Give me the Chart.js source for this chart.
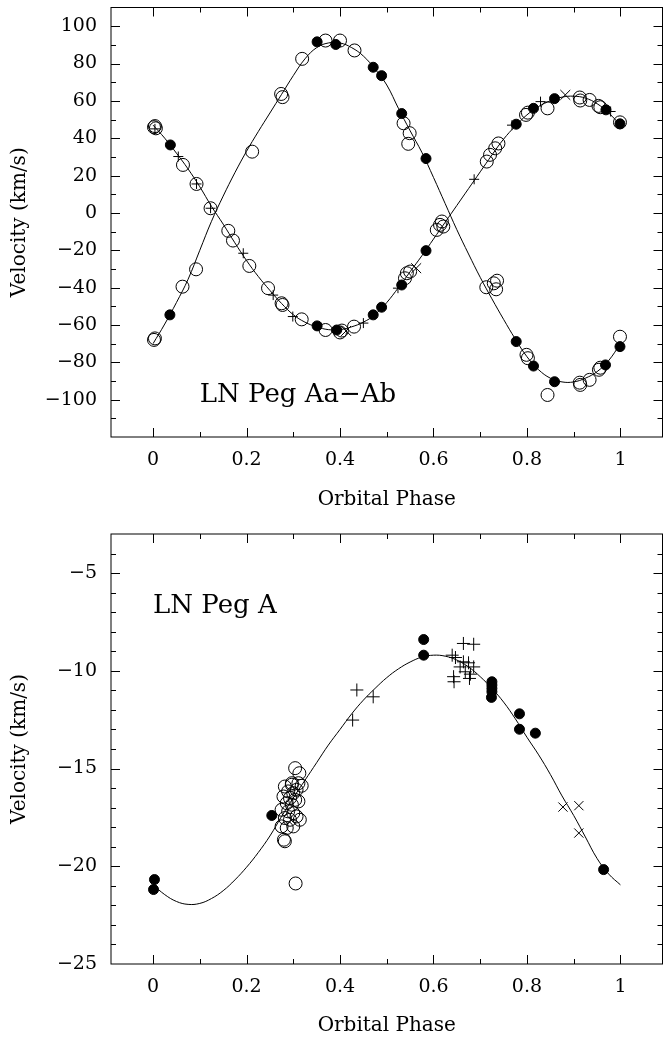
<!DOCTYPE html>
<html>
<head>
<meta charset="utf-8">
<script src="https://cdn.jsdelivr.net/npm/chart.js@4.4.0/dist/chart.umd.min.js"></script>
<style>
  html, body { margin: 0; padding: 0; background: #fff; }
  .panel { position: absolute; left: 0; width: 663px; height: 519px; }
</style>
</head>
<body>
<div class="panel" style="top:0"><canvas id="topChart" width="663" height="519"></canvas></div>
<div class="panel" style="top:519px"><canvas id="botChart" width="663" height="519"></canvas></div>

<script>
// ── TICK LABELS ───────────────────────────────────────
const xTicks    = [0, 0.2, 0.4, 0.6, 0.8, 1];
const topYTicks = [-100, -80, -60, -40, -20, 0, 20, 40, 60, 80, 100];
const botYTicks = [-25, -20, -15, -10, -5];

// ── TOP PANEL: LN Peg Aa-Ab ───────────────────────────
// fitted orbit curves, sampled along the drawn line
const curvePhase = [0, 0.025, 0.05, 0.075, 0.1, 0.125, 0.15, 0.175, 0.2, 0.225,
  0.25, 0.275, 0.3, 0.325, 0.35, 0.375, 0.4, 0.425, 0.45, 0.475,
  0.5, 0.525, 0.55, 0.575, 0.6, 0.625, 0.65, 0.675, 0.7, 0.725,
  0.75, 0.775, 0.8, 0.825, 0.85, 0.875, 0.9, 0.925, 0.95, 0.975, 1];
const curveAa = [47, 40, 32, 23.5, 14, 3.5, -6, -16, -25.5, -34,
  -41.5, -48.5, -54.5, -58.5, -61, -62.5, -62.5, -61, -58.5, -54.5,
  -48, -40, -31.5, -23, -14, -5, 4, 13, 22, 31,
  39.5, 46.5, 52.5, 57, 60, 62, 62.5, 61.5, 58.5, 53.5, 47];
const curveAb = [-70, -59.5, -48, -35.5, -20, -4.5, 9, 21.5, 33, 43.5,
  53.5, 63.5, 73.5, 82.5, 88.5, 91, 91, 88.5, 84, 77,
  68.5, 56, 44, 32.5, 19, 5, -9, -22, -34.5, -46,
  -57, -67.5, -77, -84, -88.5, -90.5, -90.5, -88.5, -85, -79, -70];

// filled circles (both components)
const topFilledPhase = [0.036, 0.351, 0.391, 0.471, 0.489, 0.532, 0.584, 0.777, 0.814, 0.859, 0.968, 0.999,
  0.037, 0.351, 0.393, 0.471, 0.489, 0.532, 0.584, 0.777, 0.814, 0.859, 0.969, 0.999];
const topFilledVel = [-54.6, 91.6, 90.2, 78.0, 73.5, 53.2, 29.1, -68.9, -82.0, -90.4, -81.4, -71.6,
  36.4, -60.5, -62.7, -54.6, -50.5, -38.6, -20.2, 47.5, 56.0, 61.2, 55.2, 47.7];

// open circles (both components)
const topOpenPhase = [0.002, 0.004, 0.006, 0.064, 0.093, 0.123, 0.161, 0.171, 0.206, 0.246,
  0.275, 0.277, 0.318, 0.369, 0.400, 0.404, 0.430, 0.539, 0.543, 0.550,
  0.607, 0.614, 0.618, 0.621, 0.714, 0.721, 0.732, 0.739, 0.798, 0.802,
  0.844, 0.913, 0.914, 0.934, 0.953, 0.957, 0.999,
  0.002, 0.004, 0.063, 0.092, 0.212, 0.274, 0.277, 0.319, 0.369, 0.400,
  0.431, 0.536, 0.546, 0.549, 0.713, 0.729, 0.734, 0.736, 0.799, 0.802,
  0.844, 0.913, 0.914, 0.934, 0.954, 0.957, 0.999];
const topOpenVel = [45.9, 46.5, 45.3, 25.7, 15.5, 2.5, -9.6, -14.8, -28.4, -40.3,
  -48.4, -49.3, -57.0, -62.7, -64.0, -63.0, -60.9, -35.0, -32.3, -31.4,
  -9.1, -6.4, -4.6, -7.3, 27.5, 31.1, 34.6, 37.2, 52.5, 53.7,
  56.0, 61.8, 60.2, 60.5, 57.3, 56.6, 48.5,
  -68.0, -67.2, -39.5, -30.2, 32.8, 63.7, 62.0, 82.5, 92.3, 92.3,
  87.0, 48.0, 37.0, 42.7, -39.8, -37.7, -40.9, -36.3, -76.0, -77.8,
  -97.5, -90.9, -92.1, -89.4, -84.0, -82.9, -66.3];

// plus signs
const topPlusPhase = [0.004, 0.054, 0.093, 0.123, 0.193, 0.257, 0.299, 0.450, 0.524, 0.687, 0.768, 0.829, 0.979];
const topPlusVel   = [45.0, 30.2, 15.5, 2.5, -21.6, -44.0, -55.5, -59.0, -40.3, 18.0, 47.0, 59.6, 54.3];

// crosses
const topCrossPhase = [0.413, 0.563, 0.882];
const topCrossVel   = [-63.2, -29.6, 63.2];

// ── BOTTOM PANEL: LN Peg A ─────────────────────────────
const curveA = [-20.95, -21.45, -21.8, -21.95, -21.9, -21.65, -21.25, -20.7, -20.05, -19.3,
  -18.45, -17.45, -16.5, -15.6, -14.7, -13.8, -13.0, -12.2, -11.5, -10.9,
  -10.35, -9.9, -9.55, -9.3, -9.2, -9.25, -9.45, -9.8, -10.3, -10.9,
  -11.6, -12.45, -13.4, -14.3, -15.3, -16.4, -17.4, -18.5, -19.6, -20.4, -20.95];

const botFilledPhase = [0.003, 0.001, 0.254, 0.579, 0.579, 0.725, 0.725, 0.725, 0.725, 0.724, 0.784, 0.784, 0.818, 0.964];
const botFilledVel   = [-20.68, -21.19, -17.4, -8.4, -9.2, -10.56, -10.73, -10.9, -11.07, -11.36, -12.2, -12.99, -13.19, -20.17];

const botOpenPhase = [0.304, 0.313, 0.297, 0.282, 0.297, 0.311, 0.318, 0.289, 0.300, 0.307,
  0.279, 0.293, 0.304, 0.286, 0.297, 0.311, 0.275, 0.289, 0.300, 0.307,
  0.282, 0.293, 0.314, 0.275, 0.286, 0.300, 0.280, 0.282, 0.305];
const botOpenVel = [-14.98, -15.24, -15.75, -15.92, -15.83, -15.75, -15.88, -16.17, -16.26, -16.09,
  -16.43, -16.51, -16.60, -16.77, -16.85, -16.68, -17.11, -17.19, -17.28, -17.45,
  -17.53, -17.62, -17.62, -17.96, -18.04, -17.96, -18.64, -18.72, -20.88];

const botPlusPhase = [0.427, 0.436, 0.471, 0.664, 0.686, 0.640, 0.647, 0.664, 0.675, 0.686, 0.657, 0.668, 0.679, 0.677, 0.644, 0.643];
const botPlusVel   = [-12.52, -10.98, -11.33, -8.6, -8.64, -9.2, -9.32, -9.54, -9.59, -9.8, -9.8, -10.05, -10.17, -10.39, -10.56, -10.3];

const botCrossPhase = [0.877, 0.911, 0.911];
const botCrossVel   = [-16.97, -16.90, -18.30];


// ── HELPERS ───────────────────────────────────────────
const FONT = 'DejaVu Serif';

function pts(xs, ys) {
  return xs.map((x, i) => ({ x: x, y: ys[i] }));
}

function fmt(v) {
  const r = Math.round(v * 100) / 100;
  return (r < 0 ? '\u2212' : '') + Math.abs(r);
}

// frame + inward ticks on all four sides, plus the panel label
const frameTicks = {
  id: 'frameTicks',
  afterDraw(chart, args, o) {
    const { ctx, chartArea: a } = chart;
    const x = chart.scales.x, y = chart.scales.y;
    const isMajor = (v, step) => Math.abs(v / step - Math.round(v / step)) < 1e-6;

    ctx.save();
    ctx.strokeStyle = '#000';
    ctx.lineWidth = 1;
    ctx.strokeRect(a.left, a.top, a.right - a.left, a.bottom - a.top);

    ctx.beginPath();
    for (let i = Math.ceil(x.min / o.xMinor - 1e-6); i * o.xMinor <= x.max + 1e-6; i++) {
      const v = i * o.xMinor;
      const px = Math.round(x.getPixelForValue(v)) + 0.5;
      const len = isMajor(v, o.xMajor) ? o.major : o.minor;
      ctx.moveTo(px, a.bottom); ctx.lineTo(px, a.bottom - len);
      ctx.moveTo(px, a.top);    ctx.lineTo(px, a.top + len);
    }
    for (let i = Math.ceil(y.min / o.yMinor + 1e-6); i * o.yMinor < y.max - 1e-6; i++) {
      const v = i * o.yMinor;
      const py = Math.round(y.getPixelForValue(v)) + 0.5;
      const len = isMajor(v, o.yMajor) ? o.major : o.minor;
      ctx.moveTo(a.left, py);  ctx.lineTo(a.left + len, py);
      ctx.moveTo(a.right, py); ctx.lineTo(a.right - len, py);
    }
    ctx.stroke();

    ctx.fillStyle = '#000';
    ctx.font = '26px "' + FONT + '"';
    ctx.textAlign = 'left';
    ctx.textBaseline = 'alphabetic';
    ctx.fillText(o.label, x.getPixelForValue(o.labelAt[0]), y.getPixelForValue(o.labelAt[1]));
    ctx.restore();
  }
};

function markerSets(fp, fv, op, ov, pp, pv, cp, cv, sizes) {
  return [
    { data: pts(fp, fv), pointStyle: 'circle', pointRadius: sizes.filled,
      backgroundColor: '#000', borderColor: '#000', borderWidth: 1 },
    { data: pts(op, ov), pointStyle: 'circle', pointRadius: sizes.open,
      backgroundColor: 'rgba(0,0,0,0)', borderColor: '#000', borderWidth: 1 },
    { data: pts(pp, pv), pointStyle: 'cross', pointRadius: sizes.plus,
      borderColor: '#000', borderWidth: 1 },
    { data: pts(cp, cv), pointStyle: 'crossRot', pointRadius: sizes.cross,
      borderColor: '#000', borderWidth: 1 }
  ];
}

function curveSet(values) {
  return {
    data: pts(curvePhase, values), showLine: true, pointRadius: 0,
    borderColor: '#000', borderWidth: 1, tension: 0.4, fill: false
  };
}

function buildPanel(id, cfg) {
  const ctx = document.getElementById(id).getContext('2d');
  new Chart(ctx, {
    type: 'scatter',
    data: { datasets: cfg.datasets },
    plugins: [frameTicks],
    options: {
      responsive: false,
      animation: false,
      devicePixelRatio: 1,
      // no automatic room for point radii; the frame sits at fixed pixels
      layout: { autoPadding: false, padding: { top: cfg.top, right: 0.5, left: 0, bottom: 0 } },
      plugins: {
        legend: { display: false },
        tooltip: { enabled: false },
        frameTicks: cfg.frame
      },
      scales: {
        x: {
          type: 'linear', position: 'bottom', min: -0.09, max: 1.09,
          grid: { display: false, drawTicks: false },
          border: { display: false },
          afterBuildTicks: s => { s.ticks = xTicks.map(v => ({ value: v })); },
          afterFit: s => { s.height = cfg.xHeight; s.paddingLeft = 0; s.paddingRight = 0; },
          ticks: { autoSkip: false, maxRotation: 0, padding: cfg.xPad, color: '#000',
                   font: { family: FONT, size: 19 }, callback: v => fmt(v) },
          title: { display: true, text: 'Orbital Phase', color: '#000',
                   font: { family: FONT, size: 20 }, padding: { top: 0, bottom: cfg.xTitlePad } }
        },
        y: {
          type: 'linear', position: 'left', min: cfg.yMin, max: cfg.yMax,
          grid: { display: false, drawTicks: false },
          border: { display: false },
          afterBuildTicks: s => { s.ticks = cfg.yTicks.map(v => ({ value: v })); },
          afterFit: s => { s.width = 111; s.paddingTop = 0; s.paddingBottom = 0; },
          ticks: { autoSkip: false, padding: 14, color: '#000',
                   font: { family: FONT, size: 19 }, callback: v => fmt(v) },
          title: { display: true, text: 'Velocity (km/s)', color: '#000',
                   font: { family: FONT, size: 20 }, padding: { top: 8, bottom: 0 } }
        }
      }
    }
  });
}

// ── INITIALIZE ────────────────────────────────────────
function init() {
  buildPanel('topChart', {
    top: 7.5, xHeight: 82, xPad: 12, xTitlePad: 7,
    yMin: -120, yMax: 110, yTicks: topYTicks,
    frame: { xMajor: 0.2, xMinor: 0.1, yMajor: 20, yMinor: 10, major: 9, minor: 5,
             label: 'LN Peg Aa\u2212Ab', labelAt: [0.1, -101] },
    datasets: [curveSet(curveAa), curveSet(curveAb)].concat(
      markerSets(topFilledPhase, topFilledVel, topOpenPhase, topOpenVel,
                 topPlusPhase, topPlusVel, topCrossPhase, topCrossVel,
                 { filled: 5, open: 6.5, plus: 5, cross: 7 }))
  });

  buildPanel('botChart', {
    top: 15, xHeight: 74, xPad: 12, xTitlePad: 0,
    yMin: -25, yMax: -3, yTicks: botYTicks,
    frame: { xMajor: 0.2, xMinor: 0.1, yMajor: 5, yMinor: 1, major: 9, minor: 5,
             label: 'LN Peg A', labelAt: [0.0, -7.05] },
    datasets: [curveSet(curveA)].concat(
      markerSets(botFilledPhase, botFilledVel, botOpenPhase, botOpenVel,
                 botPlusPhase, botPlusVel, botCrossPhase, botCrossVel,
                 { filled: 5, open: 6.5, plus: 6.5, cross: 6.5 }))
  });
}

window.onload = init;
</script>
</body>
</html>
